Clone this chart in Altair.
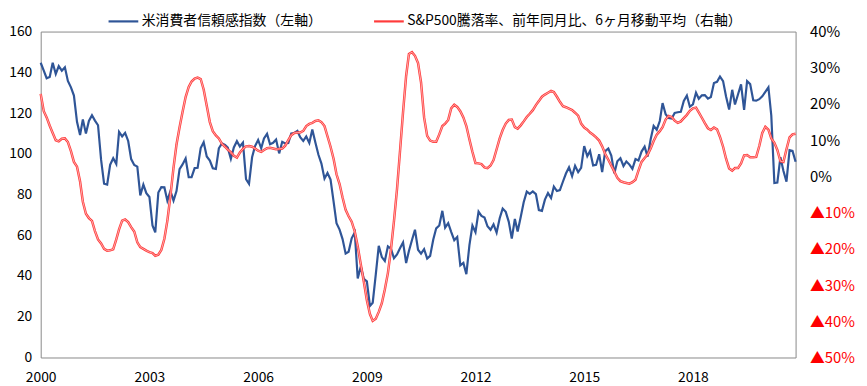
import altair as alt
import pandas as pd

# Monthly dates, Jan 2000 - Nov 2020
dates = pd.date_range("2000-01-01", periods=251, freq="MS")

# US consumer confidence index (left axis)
confidence = [
    144.7, 140.8, 137.1, 137.7, 144.7, 139.2, 143.0, 140.8, 142.5, 135.8, 132.6, 128.6,
    115.7, 109.2, 116.9, 109.9, 116.1, 118.9, 116.3, 114.0, 97.0, 85.3, 84.9, 94.6,
    97.8, 95.0, 110.7, 108.5, 110.3, 106.3, 97.4, 94.5, 93.7, 79.6, 84.9, 80.7,
    78.8, 64.8, 61.4, 81.0, 83.6, 83.5, 77.0, 81.7, 77.0, 81.7, 92.5, 94.8,
    97.7, 88.5, 88.5, 93.0, 93.1, 102.8, 105.7, 98.7, 96.7, 92.9, 92.6, 102.7,
    105.1, 104.4, 103.0, 97.5, 103.1, 106.2, 103.6, 105.5, 87.5, 85.2, 98.3, 103.8,
    106.8, 102.7, 107.5, 109.8, 104.7, 105.4, 107.0, 100.2, 105.9, 105.1, 105.3, 110.0,
    110.2, 111.2, 108.2, 106.3, 108.5, 105.3, 111.9, 105.6, 99.5, 95.2, 87.8, 90.6,
    87.3, 76.4, 65.9, 62.8, 58.1, 51.0, 51.9, 58.5, 61.4, 38.8, 44.7, 38.6,
    37.4, 25.3, 26.9, 40.8, 54.8, 49.3, 47.4, 54.5, 53.4, 48.7, 50.6, 53.6,
    56.5, 46.4, 52.3, 57.7, 62.7, 52.9, 51.0, 53.2, 48.6, 49.9, 57.8, 63.4,
    64.8, 72.0, 63.8, 66.0, 61.7, 57.6, 59.2, 45.2, 46.4, 40.9, 55.2, 64.8,
    61.5, 71.6, 69.5, 68.7, 64.4, 62.7, 65.4, 61.3, 68.4, 73.1, 71.5, 66.7,
    58.4, 68.0, 61.9, 69.0, 76.2, 81.4, 80.3, 81.5, 80.2, 72.4, 72.0, 77.5,
    80.7, 78.3, 83.9, 81.7, 82.2, 86.4, 90.3, 93.4, 89.0, 94.1, 91.0, 93.1,
    103.8, 98.8, 101.4, 94.3, 94.6, 99.8, 91.0, 101.3, 102.6, 99.1, 90.4, 96.3,
    97.8, 94.0, 96.2, 94.7, 92.6, 97.4, 96.7, 101.1, 103.5, 98.6, 107.1, 113.7,
    111.8, 116.1, 124.9, 119.4, 117.6, 117.3, 120.0, 120.4, 120.6, 125.9, 128.6, 123.1,
    124.3, 130.0, 127.0, 128.7, 128.8, 127.1, 127.9, 134.7, 135.3, 137.9, 135.7, 128.1,
    121.7, 131.4, 124.2, 129.2, 134.1, 121.5, 135.7, 134.2, 126.3, 126.1, 126.8, 128.2,
    130.4, 132.6, 118.8, 85.7, 85.9, 98.3, 91.7, 86.3, 101.8, 101.4, 96.1,
]

# S&P500 YoY change, 6-month moving average, % (right axis)
sp500 = [
    22.8, 18.0, 16.3, 14.0, 12.0, 10.0, 9.7, 10.4, 10.5, 9.5, 7.0, 4.0,
    2.7, -1.4, -7.0, -10.3, -11.5, -12.3, -15.1, -17.4, -18.5, -20.0, -20.5, -20.4,
    -20.1, -17.4, -14.6, -12.2, -11.9, -12.6, -14.0, -15.2, -18.2, -19.5, -20.0, -20.5,
    -20.9, -21.2, -21.9, -21.6, -20.3, -17.2, -12.2, -5.3, 2.4, 8.8, 13.6, 17.8,
    21.9, 24.7, 26.2, 27.0, 27.3, 26.9, 24.0, 19.5, 15.0, 12.5, 11.3, 10.5,
    9.0, 8.2, 7.4, 6.7, 5.7, 5.2, 6.6, 7.6, 8.3, 8.4, 8.2, 7.7,
    7.1, 6.8, 7.3, 7.8, 7.9, 7.7, 7.5, 7.6, 7.7, 8.5, 10.0, 11.4,
    12.0, 12.1, 12.1, 12.6, 13.9, 14.5, 14.8, 15.3, 15.5, 15.0, 13.9, 11.1,
    8.2, 4.8, 0.6, -2.1, -5.8, -9.2, -11.0, -12.5, -15.2, -19.3, -24.3, -29.0,
    -34.2, -38.0, -39.9, -39.3, -37.4, -35.0, -31.2, -26.7, -20.1, -12.4, -3.5, 6.9,
    17.8, 27.8, 33.8, 34.3, 33.3, 31.3, 26.0, 16.3, 11.2, 9.9, 9.6, 9.6,
    11.6, 13.9, 14.6, 15.6, 18.8, 19.8, 19.2, 18.0, 16.3, 13.9, 10.2, 6.8,
    3.7, 3.6, 3.4, 2.5, 2.3, 3.0, 4.5, 7.5, 10.5, 12.8, 14.6, 15.6,
    15.7, 13.6, 13.2, 14.1, 15.2, 16.4, 17.3, 18.3, 19.7, 20.8, 22.0, 22.6,
    23.1, 23.6, 23.3, 22.0, 20.6, 19.4, 19.1, 18.7, 18.3, 17.6, 16.8, 14.6,
    13.5, 12.9, 12.1, 11.5, 10.8, 9.9, 8.3, 6.2, 4.6, 3.0, 1.3, -0.4,
    -1.3, -1.6, -1.8, -2.0, -1.6, -0.9, 1.6, 4.0, 5.1, 6.0, 7.7, 9.8,
    11.5, 12.5, 13.6, 15.7, 16.7, 16.4, 15.4, 14.8, 15.2, 16.1, 17.0, 18.1,
    18.8, 19.0, 17.7, 16.2, 14.7, 13.3, 12.8, 13.5, 13.0, 10.9, 8.2, 4.9,
    2.2, 1.6, 2.3, 2.3, 3.6, 5.8, 5.9, 5.3, 5.3, 5.4, 8.4, 12.0,
    13.7, 12.9, 10.5, 9.3, 7.3, 4.2, 4.0, 7.5, 10.8, 11.6, 11.8,
]

series_names = ["米消費者信頼感指数（左軸）", "S&P500騰落率、前年同月比、6ヶ月移動平均（右軸）"]
left_ticks = list(range(0, 161, 20))
right_ticks = list(range(-50, 41, 10))
x_tick_years = list(range(2000, 2019, 3))

FONT = "Noto Sans CJK JP"
BLUE = "#2F5597"
RED = "#FF3B3B"

df_conf = pd.DataFrame({"date": dates, "value": confidence, "series": series_names[0]})
df_sp = pd.DataFrame({"date": dates, "value": sp500, "series": series_names[1]})

x_enc = alt.X(
    "date:T",
    scale=alt.Scale(domain=[alt.DateTime(year=2000, month=1, date=1),
                            alt.DateTime(year=2020, month=11, date=1)]),
    axis=alt.Axis(
        values=[alt.DateTime(year=y, month=1, date=1) for y in x_tick_years],
        format="%Y", title=None, ticks=False, domain=False, grid=False,
        labelPadding=13, labelFlush=False, labelFontSize=14, labelColor="#000000",
        labelFont=FONT,
    ),
)

color_enc = alt.Color(
    "series:N",
    scale=alt.Scale(domain=series_names, range=[BLUE, RED]),
    legend=alt.Legend(
        title=None, orient="none", direction="horizontal", legendX=67, legendY=-27,
        symbolType="stroke", symbolSize=900, symbolStrokeWidth=2.2,
        labelFontSize=14, labelFont=FONT, labelColor="#000000", labelLimit=0,
        columnPadding=48, labelOffset=2, padding=0,
    ),
)

blue = alt.Chart(df_conf).mark_line(strokeWidth=2.2).encode(
    x=x_enc,
    y=alt.Y(
        "value:Q",
        scale=alt.Scale(domain=[0, 160], nice=False),
        axis=alt.Axis(
            values=left_ticks, title=None, ticks=False, domain=False, grid=False,
            labelPadding=9, labelFlush=False, labelFontSize=14, labelColor="#000000",
            labelFont=FONT,
        ),
    ),
    color=color_enc,
)

right_axis = alt.Axis(
    orient="right", values=right_ticks, title=None, ticks=False, domain=False,
    grid=False, labelPadding=14, labelFlush=False, labelFontSize=15,
    labelFont=FONT,
    labelExpr="datum.value < 0 ? '▲' + (-datum.value) + '%' : datum.value + '%'",
    labelColor={"condition": {"test": "datum.value < 0", "value": "#FF0000"},
                "value": "#000000"},
)
right_scale = alt.Scale(domain=[-50, 40], nice=False)

red_outer = alt.Chart(df_sp).mark_line(strokeWidth=2.5).encode(
    x=x_enc, y=alt.Y("value:Q", scale=right_scale, axis=right_axis), color=color_enc
)
red_inner = alt.Chart(df_sp).mark_line(strokeWidth=0.8, color="#FFC4C4").encode(
    x=x_enc, y=alt.Y("value:Q", scale=right_scale, axis=right_axis)
)

red = alt.layer(red_outer, red_inner)

chart = alt.layer(blue, red).resolve_scale(y="independent").properties(
    width=762,
    height=329,
    padding={"left": 33, "top": 22, "right": 64, "bottom": 29},
    autosize=alt.AutoSizeParams(type="none"),
    background="#FFFFFF",
).configure_view(stroke="#898989", strokeWidth=1)

chart.save("out.html", embed_options={"renderer": "svg", "actions": False})
